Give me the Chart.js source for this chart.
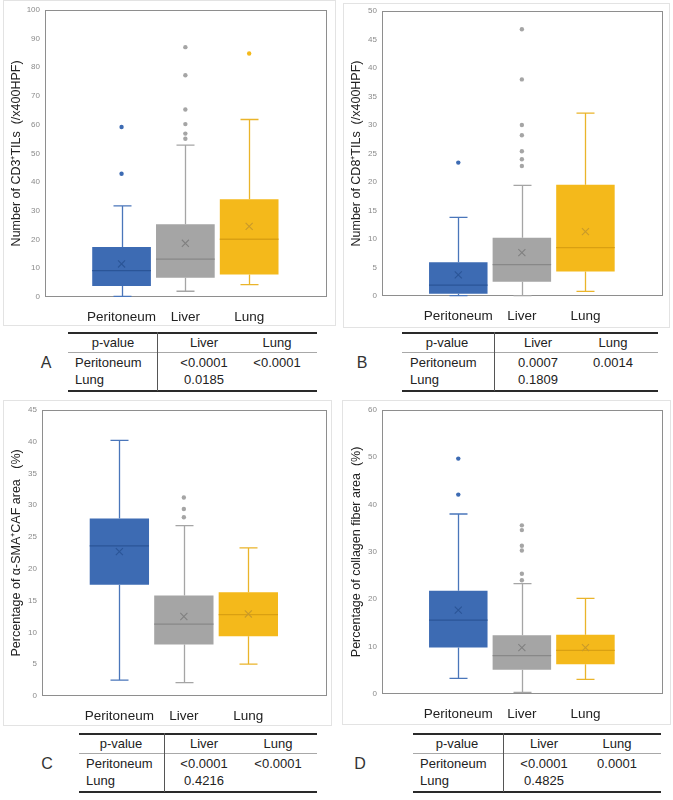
<!DOCTYPE html>
<html><head><meta charset="utf-8">
<script src="https://cdn.jsdelivr.net/npm/chart.js@4.4.1/dist/chart.umd.min.js"></script>
<style>
body{margin:0;background:#fff;}
#root{position:relative;width:673px;height:800px;overflow:hidden;font-family:"Liberation Sans",Arial,sans-serif;color:#222;}
.frame{position:absolute;border:1px solid #e3e3e3;box-sizing:border-box;}
canvas{position:absolute;}
.t{position:absolute;font-size:13px;line-height:14px;white-space:nowrap;color:#222;}
.c{transform:translateX(-50%);}
.rule{position:absolute;}
.letter{position:absolute;font-size:16px;color:#333;transform:translate(-50%,-50%);}
</style>
</head><body>
<div id="root"></div>
<script>
// ---------- data ----------
const categories = ['Peritoneum', 'Liver', 'Lung'];

// A: CD3+ TILs
const cd3Min    = [0.2, 2.0, 4.3];
const cd3Q1     = [3.8, 6.7, 7.8];
const cd3Median = [9.2, 13.2, 20.1];
const cd3Q3     = [17.4, 25.3, 34.0];
const cd3Max    = [31.7, 52.9, 61.8];
const cd3Mean   = [11.5, 18.7, 24.6];
const cd3Outliers = [[59.2, 42.9], [87.0, 77.2, 65.3, 60.2, 56.9, 55.1], [84.8]];

// B: CD8+ TILs
const cd8Min    = [0.06, 0.06, 0.8];
const cd8Q1     = [0.4, 2.5, 4.3];
const cd8Median = [1.9, 5.5, 8.5];
const cd8Q3     = [5.9, 10.2, 19.5];
const cd8Max    = [13.8, 19.4, 32.1];
const cd8Mean   = [3.7, 7.6, 11.3];
const cd8Outliers = [[23.4], [46.8, 38.0, 30.0, 28.2, 25.4, 24.0, 22.8], []];

// C: alpha-SMA+ CAF area
const smaMin    = [2.5, 2.1, 5.0];
const smaQ1     = [17.5, 8.1, 9.4];
const smaMedian = [23.6, 11.3, 12.8];
const smaQ3     = [27.9, 15.8, 16.3];
const smaMax    = [40.2, 26.8, 23.3];
const smaMean   = [22.7, 12.5, 12.9];
const smaOutliers = [[], [31.2, 29.4, 28.1], []];

// D: collagen fiber area
const colMin    = [3.3, 0.35, 3.1];
const colQ1     = [9.8, 5.1, 6.3];
const colMedian = [15.6, 8.1, 9.2];
const colQ3     = [21.8, 12.4, 12.5];
const colMax    = [38.0, 23.3, 20.2];
const colMean   = [17.7, 9.8, 9.8];
const colOutliers = [[49.7, 42.1], [35.6, 34.6, 31.3, 30.3, 25.4, 24.0], []];

// y-axis tick ranges
const cd3Ticks = [0, 100, 10];
const cd8Ticks = [0, 50, 5];
const smaTicks = [0, 45, 5];
const colTicks = [0, 60, 10];

// p-value tables
const pvalHeader = ['p-value', 'Liver', 'Lung'];
const pvalRows = ['Peritoneum', 'Lung'];
const cd3P = [['<0.0001', '<0.0001'], ['0.0185', '']];
const cd8P = [['0.0007', '0.0014'], ['0.1809', '']];
const smaP = [['<0.0001', '<0.0001'], ['0.4216', '']];
const colP = [['<0.0001', '0.0001'], ['0.4825', '']];

// ---------- styles ----------
const boxColors = ['#3d6bb3', '#a5a5a5', '#f4b91b'];
const medianColors = ['#2b5597', '#888888', '#d9a012'];
const meanColors = ['#2b5597', '#808080', '#c99a2a'];
const whiskerColors = ['#4a76ba', '#a5a5a5', '#eab42a'];
const FONT = '"Liberation Sans", Arial, sans-serif';

const root = document.getElementById('root');

const boxExtras = {
  id: 'boxExtras',
  beforeDatasetsDraw(chart) {
    const a = chart.chartArea, ctx = chart.ctx;
    ctx.save();
    ctx.strokeStyle = '#8e8e8e';
    ctx.lineWidth = 1;
    ctx.strokeRect(Math.round(a.left) + 0.5, Math.round(a.top) + 0.5,
      Math.round(a.right - a.left) - 1, Math.round(a.bottom - a.top) - 1);
    ctx.restore();
  },
  afterDatasetDraw(chart, args) {
    if (args.index !== 0) return;
    const o = chart.options.plugins.boxExtras;
    const y = chart.scales.y, ctx = chart.ctx;
    const meta = chart.getDatasetMeta(0);
    ctx.save();
    meta.data.forEach((bar, i) => {
      const cx = Math.round(bar.x) + 0.5;
      const half = bar.width / 2;
      const capHalf = 9;
      ctx.lineWidth = 1.3;
      ctx.strokeStyle = whiskerColors[i];
      const yq1 = y.getPixelForValue(o.q1[i]), yq3 = y.getPixelForValue(o.q3[i]);
      const ymin = y.getPixelForValue(o.min[i]), ymax = y.getPixelForValue(o.max[i]);
      ctx.beginPath();
      ctx.moveTo(cx, yq3); ctx.lineTo(cx, ymax);
      ctx.moveTo(cx - capHalf, ymax); ctx.lineTo(cx + capHalf, ymax);
      ctx.moveTo(cx, yq1); ctx.lineTo(cx, ymin);
      ctx.moveTo(cx - capHalf, ymin); ctx.lineTo(cx + capHalf, ymin);
      ctx.stroke();
      ctx.strokeStyle = medianColors[i];
      const ym = y.getPixelForValue(o.median[i]);
      ctx.beginPath();
      ctx.moveTo(bar.x - half, ym); ctx.lineTo(bar.x + half, ym);
      ctx.stroke();
    });
    ctx.restore();
  }
};

function makePanel(p) {
  const fr = document.createElement('div');
  fr.className = 'frame';
  Object.assign(fr.style, {left: p.frame[0] + 'px', top: p.frame[1] + 'px', width: p.frame[2] + 'px', height: p.frame[3] + 'px'});
  root.appendChild(fr);

  const cv = document.createElement('canvas');
  cv.width = p.canvas[2]; cv.height = p.canvas[3];
  Object.assign(cv.style, {left: p.canvas[0] + 'px', top: p.canvas[1] + 'px', width: p.canvas[2] + 'px', height: p.canvas[3] + 'px'});
  root.appendChild(cv);

  const outPts = [];
  p.outliers.forEach((arr, i) => arr.forEach(v => outPts.push({x: i + 1, y: v})));

  new Chart(cv.getContext('2d'), {
    type: 'bar',
    data: {
      datasets: [
        {
          type: 'bar', order: 2,
          data: categories.map((c, i) => ({x: i + 1, y: [p.q1[i], p.q3[i]]})),
          backgroundColor: boxColors, borderColor: boxColors, borderWidth: 0,
          categoryPercentage: 1, barPercentage: 0.92, borderSkipped: false
        },
        {
          type: 'scatter', order: 1,
          data: categories.map((c, i) => ({x: i + 1, y: p.mean[i]})),
          pointStyle: 'crossRot', pointRadius: 5, borderWidth: 1.1,
          borderColor: meanColors, backgroundColor: meanColors
        },
        {
          type: 'scatter', order: 0,
          data: outPts,
          pointStyle: 'circle', pointRadius: 2.2, borderWidth: 0,
          backgroundColor: c => boxColors[c.raw.x - 1], borderColor: c => boxColors[c.raw.x - 1]
        }
      ]
    },
    options: {
      responsive: false, animation: false, devicePixelRatio: 1,
      layout: {padding: {top: p.padTop, right: p.padRight, left: 0, bottom: 0}},
      plugins: {
        legend: {display: false}, tooltip: {enabled: false},
        boxExtras: {min: p.min, q1: p.q1, median: p.median, q3: p.q3, max: p.max}
      },
      scales: {
        x: {
          type: 'linear', min: -0.2, max: 4.22, offset: false,
          grid: {display: false, drawTicks: false, offset: false}, border: {display: false},
          afterBuildTicks: s => { s.ticks = categories.map((c, i) => ({value: i + 1})); },
          afterFit: s => { s.height = p.xAxisH; },
          ticks: {
            callback: v => categories[v - 1] || '',
            font: {family: FONT, size: 13.5}, color: '#222', padding: 12, autoSkip: false, maxRotation: 0
          }
        },
        y: {
          min: p.ticks[0], max: p.ticks[1],
          grid: {display: false, drawTicks: false}, border: {display: false},
          afterFit: s => { s.width = p.yAxisW; },
          ticks: {stepSize: p.ticks[2], font: {family: FONT, size: 8}, color: '#8a8a8a', padding: 5},
          title: {display: true, text: p.title, font: {family: FONT, size: 12.5}, color: '#222', padding: {top: 9, bottom: 0}}
        }
      }
    },
    plugins: [boxExtras]
  });

  // table
  const g = p.table;
  const addRule = (x1, y1, w, h, col) => {
    const d = document.createElement('div'); d.className = 'rule';
    Object.assign(d.style, {left: x1 + 'px', top: y1 + 'px', width: w + 'px', height: h + 'px', background: col});
    root.appendChild(d);
  };
  const addText = (txt, x, yc, center) => {
    const d = document.createElement('div'); d.className = 't' + (center ? ' c' : '');
    d.textContent = txt;
    Object.assign(d.style, {left: x + 'px', top: (yc - 7) + 'px'});
    root.appendChild(d);
  };
  const y0 = g.top;
  addRule(g.L, y0, g.R - g.L, 1.5, '#2a2a2a');
  addRule(g.L, y0 + 20, g.R - g.L, 1, '#a8a8a8');
  addRule(g.L, y0 + 58, g.R - g.L, 1.5, '#2a2a2a');
  addRule(g.V, y0, 1, 59, '#555');
  addText(pvalHeader[0], g.pv, y0 + 11, true);
  addText(pvalHeader[1], g.c1, y0 + 11, true);
  addText(pvalHeader[2], g.c2, y0 + 11, true);
  pvalRows.forEach((r, ri) => {
    const yc = y0 + 31 + ri * 17;
    addText(r, g.lab, yc, false);
    addText(p.pvals[ri][0], g.c1, yc, true);
    if (p.pvals[ri][1]) addText(p.pvals[ri][1], g.c2, yc, true);
  });
  const le = document.createElement('div'); le.className = 'letter'; le.textContent = p.letter;
  Object.assign(le.style, {left: g.letterX + 'px', top: (y0 + 31) + 'px'});
  root.appendChild(le);
}

makePanel({
  letter: 'A', frame: [3, 0, 333, 326], canvas: [0, 0, 340, 330],
  yAxisW: 45, padTop: 7, padRight: 13, xAxisH: 33,
  min: cd3Min, q1: cd3Q1, median: cd3Median, q3: cd3Q3, max: cd3Max, mean: cd3Mean, outliers: cd3Outliers,
  ticks: cd3Ticks, title: 'Number of CD3\u207ATILs  (/x400HPF)', pvals: cd3P,
  table: {top: 332, L: 68, R: 317, V: 157, pv: 113, c1: 204, c2: 277, lab: 75, letterX: 46}
});
makePanel({
  letter: 'B', frame: [343, 3, 327, 325], canvas: [340, 0, 333, 330],
  yAxisW: 42, padTop: 11, padRight: 10, xAxisH: 34,
  min: cd8Min, q1: cd8Q1, median: cd8Median, q3: cd8Q3, max: cd8Max, mean: cd8Mean, outliers: cd8Outliers,
  ticks: cd8Ticks, title: 'Number of CD8\u207ATILs  (/x400HPF)', pvals: cd8P,
  table: {top: 332, L: 402, R: 658, V: 494, pv: 447, c1: 538, c2: 613, lab: 410, letterX: 362}
});
makePanel({
  letter: 'C', frame: [3, 400, 329, 326], canvas: [0, 400, 340, 330],
  yAxisW: 42, padTop: 7, padRight: 13, xAxisH: 34,
  min: smaMin, q1: smaQ1, median: smaMedian, q3: smaQ3, max: smaMax, mean: smaMean, outliers: smaOutliers,
  ticks: smaTicks, title: 'Percentage of \u03B1-SMA\u207ACAF area   (%)', pvals: smaP,
  table: {top: 733, L: 79, R: 317, V: 164, pv: 121, c1: 204, c2: 278, lab: 86, letterX: 47}
});
makePanel({
  letter: 'D', frame: [342, 400, 329, 325], canvas: [340, 400, 333, 330],
  yAxisW: 42, padTop: 7, padRight: 10, xAxisH: 36,
  min: colMin, q1: colQ1, median: colMedian, q3: colQ3, max: colMax, mean: colMean, outliers: colOutliers,
  ticks: colTicks, title: 'Percentage of collagen fiber area  (%)', pvals: colP,
  table: {top: 733, L: 413, R: 661, V: 503, pv: 457, c1: 544, c2: 617, lab: 420, letterX: 360}
});
</script>
</body></html>
